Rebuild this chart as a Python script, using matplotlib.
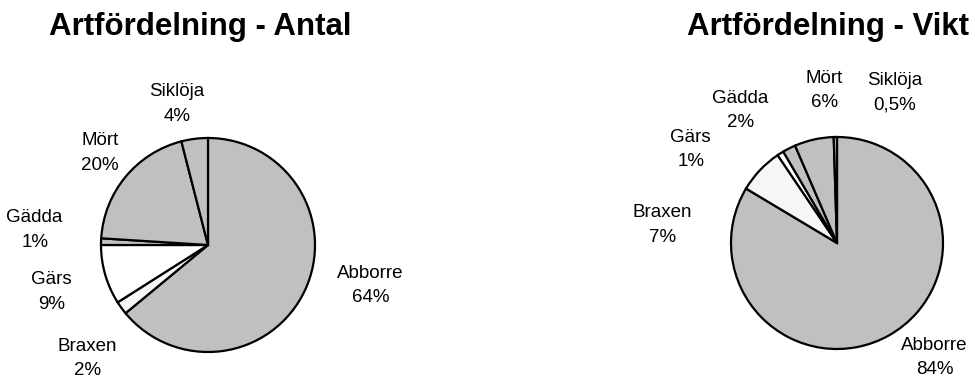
import matplotlib as mpl

mpl.use("Agg")
import matplotlib.pyplot as plt

plt.rcParams["font.family"] = ["Liberation Sans", "DejaVu Sans"]

# Species and their share (%) by count and by weight
species = ["Abborre", "Braxen", "Gärs", "Gädda", "Mört", "Siklöja"]
antal = [64, 2, 9, 1, 20, 4]
vikt = [84, 7, 1, 2, 6, 0.5]

colors = ["#c0c0c0", "#f6f6f6", "#ffffff", "#c0c0c0", "#c0c0c0", "#c0c0c0"]

# label anchor points, in units of pie radius
antal_label_pos = [(1.52, -0.38), (-1.13, -1.06), (-1.46, -0.44),
                   (-1.62, 0.14), (-1.01, 0.86), (-0.29, 1.32)]
vikt_label_pos = [(0.92, -1.08), (-1.65, 0.17), (-1.38, 0.88),
                  (-0.91, 1.25), (-0.12, 1.44), (0.54, 1.42)]


def pct(v):
    s = f"{v:g}%"
    return s.replace(".", ",")


W, H = 975, 380
fig = plt.figure(figsize=(W / 100, H / 100), dpi=100)


def draw_pie(rect_px, center_px, radius_px, values, label_pos, title, title_x):
    x0, x1 = rect_px
    ax = fig.add_axes([x0 / W, 0, (x1 - x0) / W, 1])
    cx, cy = center_px
    ax.axis("off")
    ax.pie(
        values,
        colors=colors,
        startangle=90,
        counterclock=False,
        radius=1,
        wedgeprops=dict(edgecolor="black", linewidth=1.6),
    )
    ax.set_xlim(-(cx - x0) / radius_px, (x1 - cx) / radius_px)
    ax.set_ylim(-(H - cy) / radius_px, cy / radius_px)
    ax.set_aspect("auto")
    for name, v, (lx, ly) in zip(species, values, label_pos):
        ax.text(lx, ly, f"{name}\n{pct(v)}", ha="center", va="center",
                fontsize=13.5, linespacing=1.58)
    fig.text(title_x / W, 1 - 27 / H, title, ha="center", va="center",
             fontsize=22.5, fontweight="bold")


draw_pie((0, 487), (208, 245), 107, antal, antal_label_pos,
         "Artfördelning - Antal", 200)
draw_pie((487, 975), (837, 243), 106, vikt, vikt_label_pos,
         "Artfördelning - Vikt", 828)

fig.savefig("out.png", dpi=100)
